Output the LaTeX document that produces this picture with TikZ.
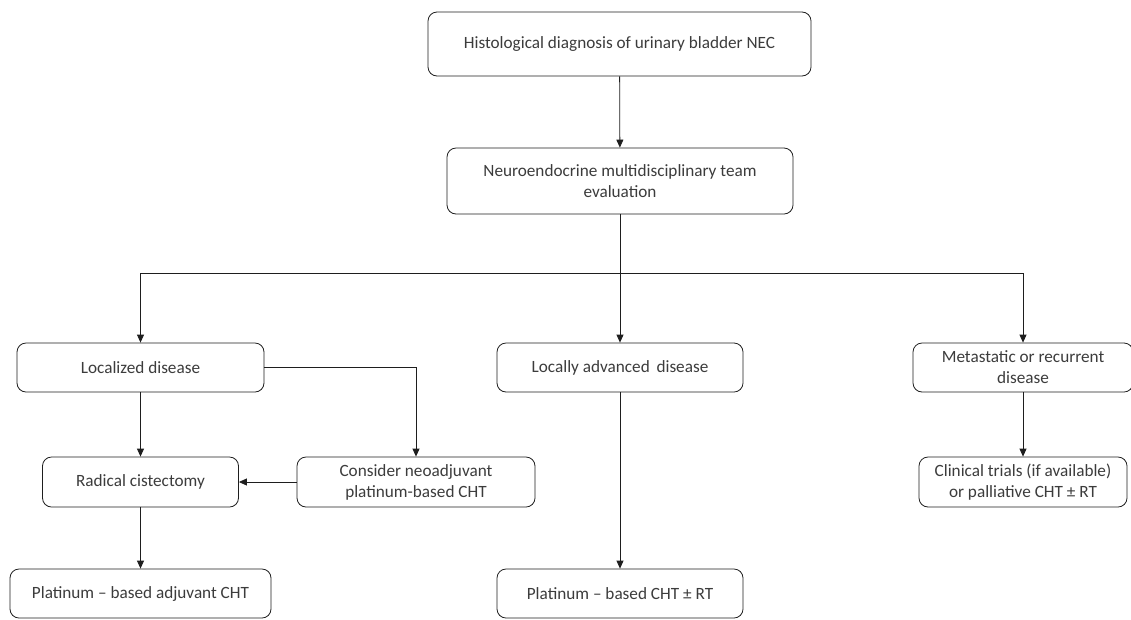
\documentclass[tikz,border=0pt]{standalone}
\usepackage{fontspec}
\setmainfont{Carlito}
\usepackage{xcolor}
\usepackage{tikz}
\usetikzlibrary{arrows.meta, positioning, calc}
\definecolor{inkline}{RGB}{30,30,30}
\definecolor{inktext}{RGB}{60,60,60}
\newcommand{\boxfont}{\fontsize{17.2}{21}\selectfont}

\begin{document}
\begin{tikzpicture}[x=1pt, y=-1pt,
  box/.style={draw=inkline, line width=0.8pt, rounded corners=9pt, align=center,
    font=\boxfont, text=inktext, inner sep=0pt},
  arr/.style={draw=inkline, line width=0.8pt, -{Triangle[width=7pt, length=8pt]}},
  link/.style={draw=inkline, line width=0.8pt}]
  \useasboundingbox[fill=white] (0,0) rectangle (1131,619);
  \node[box, minimum width=383pt, minimum height=64pt] (diag) at (619.5,44) {Histological diagnosis of urinary bladder NEC};
  \node[box, minimum width=346pt, minimum height=66pt] (mdt) at (620,181) {Neuroendocrine multidisciplinary team\\evaluation};
  \node[box, minimum width=247pt, minimum height=49pt] (loc) at (140.5,367.5) {Localized disease};
  \node[box, minimum width=246pt, minimum height=49pt] (locadv) at (620,367.5) {Locally advanced\, disease};
  \node[box, minimum width=220pt, minimum height=49pt] (meta) at (1023,367.5) {Metastatic or recurrent\\disease};
  \node[box, minimum width=196pt, minimum height=50pt] (radical) at (140.5,482) {Radical cistectomy};
  \node[box, minimum width=238pt, minimum height=50pt] (neo) at (416,482) {Consider neoadjuvant\\platinum-based CHT};
  \node[box, minimum width=208pt, minimum height=50pt] (trials) at (1023,482) {Clinical trials (if available)\\or palliative CHT ± RT};
  \node[box, minimum width=261pt, minimum height=49pt] (platadj) at (140.5,593.5) {Platinum -- based adjuvant CHT};
  \node[box, minimum width=246pt, minimum height=49pt] (platrt) at (620,593.5) {Platinum -- based CHT ± RT};

  \draw[arr] (diag) -- (mdt);
  \draw[link] (mdt.south) -- (620,273) coordinate (split);
  \draw[arr] (split) -| (loc.north);
  \draw[arr] (split) -- (locadv.north);
  \draw[arr] (split) -| (meta.north);
  \draw[arr] (loc) -- (radical);
  \draw[arr] (loc.east) -| (neo.north);
  \draw[arr] (neo) -- (radical);
  \draw[arr] (radical) -- (platadj);
  \draw[arr] (locadv) -- (platrt);
  \draw[arr] (meta) -- (trials);
\end{tikzpicture}
\end{document}
